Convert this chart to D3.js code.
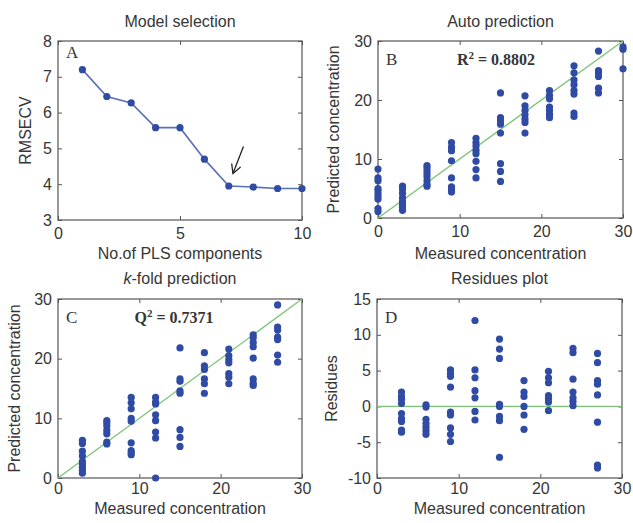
<!DOCTYPE html>
<html>
<head>
<meta charset="utf-8">
<script src="https://cdn.jsdelivr.net/npm/d3@7"></script>
<style>
  body { margin: 0; background: #fff; }
  svg { display: block; }
  text { font-family: "Liberation Sans", Arial, sans-serif; fill: #363636; }
  .serif { font-family: "Liberation Serif", "Times New Roman", serif; }
</style>
</head>
<body>
<svg id="chart" width="633" height="523"></svg>
<script>
// Panel A: cross-validation error against number of PLS components
const components = [1, 2, 3, 4, 5, 6, 7, 8, 9, 10];
const rmsecv = [7.2, 6.45, 6.27, 5.58, 5.58, 4.7, 3.95, 3.92, 3.88, 3.88];
const arrowFrom = [7.6, 5.05];
const arrowTo = [7.17, 4.3];

// Panel B: auto prediction (measured level -> predicted values)
const autoLevels = [0, 3, 6, 9, 12, 15, 18, 21, 24, 27, 30];
const autoPred = [
  [8.3, 6.8, 6.3, 5.0, 4.6, 4.1, 3.6, 3.2, 1.6, 1.1],
  [5.4, 4.9, 4.2, 3.4, 2.8, 2.3, 1.8, 1.3],
  [8.9, 8.5, 8.0, 7.5, 7.0, 6.3, 5.7, 5.4],
  [12.8, 12.0, 11.4, 9.7, 6.8, 5.3, 4.8, 4.4],
  [13.5, 12.8, 12.2, 11.5, 10.9, 9.6, 8.2, 6.8],
  [21.2, 17.0, 16.5, 15.9, 14.4, 9.2, 7.9, 6.2],
  [20.7, 19.0, 18.2, 17.5, 16.8, 16.2, 14.4],
  [21.6, 20.8, 20.2, 18.8, 18.2, 17.6, 17.0],
  [25.8, 24.6, 23.4, 22.6, 21.6, 21.0, 17.8, 17.2],
  [28.3, 25.0, 24.6, 24.0, 22.0, 21.2],
  [29.0, 28.6, 25.3]
];

// Panel C: k-fold prediction
const kfoldLevels = [3, 6, 9, 12, 15, 18, 21, 24, 27];
const kfoldPred = [
  [6.3, 5.8, 4.5, 3.7, 2.8, 2.3, 1.8, 1.3, 0.8],
  [9.6, 9.2, 8.7, 8.0, 7.4, 6.0, 5.7],
  [13.5, 12.6, 11.6, 10.0, 9.5, 5.9, 4.6, 4.2, 3.9],
  [13.5, 12.7, 12.4, 10.6, 9.6, 7.7, 6.7, 0.0],
  [21.8, 16.6, 16.2, 14.6, 14.2, 8.1, 6.8, 5.3],
  [21.0, 18.8, 18.2, 16.6, 15.8, 14.2],
  [21.6, 20.5, 19.8, 19.3, 17.5, 16.9, 15.8],
  [24.0, 23.5, 22.7, 22.0, 20.1, 16.6, 15.9, 15.5],
  [29.0, 25.3, 24.8, 23.6, 23.2, 20.6, 19.4]
];

// Panel D: residues
const residueLevels = [3, 6, 9, 12, 15, 18, 21, 24, 27];
const residues = [
  [2.0, 1.4, 1.0, 0.4, -1.0, -1.7, -2.1, -3.3, -3.6],
  [0.2, -0.1, -1.8, -2.4, -2.9, -3.4, -3.9],
  [5.1, 4.6, 4.2, 2.7, -0.8, -1.2, -3.0, -3.9, -4.9],
  [12.0, 5.1, 4.0, 2.2, 1.2, -0.7, -1.9],
  [9.4, 8.0, 6.7, 0.3, 0.0, -1.4, -2.0, -7.1],
  [3.6, 2.0, 1.4, 0.0, -1.2, -3.2],
  [4.9, 4.0, 3.3, 1.5, 1.1, 0.6, -0.6],
  [8.1, 7.5, 3.8, 2.0, 1.2, 0.7, 0.1],
  [7.4, 6.1, 3.6, 3.1, 1.6, -2.2, -8.2, -8.6]
];

const ticksA_x = [0, 5, 10];
const ticksA_y = [3, 4, 5, 6, 7, 8];
const ticksConc = [0, 10, 20, 30];
const ticksRes = [-10, -5, 0, 5, 10, 15];

const dotColor = "#2f4ba3";
const lineBlue = "#5a6fb5";
const green = "#7cc576";
const frame = "#555";

const svg = d3.select("#chart");

function flatten(levels, groups) {
  const out = [];
  levels.forEach((lv, i) => groups[i].forEach(v => out.push([lv, v])));
  return out;
}

// plain hyphen for negatives, as the plotting software prints them
const fmt = d => String(d);

function panel(o) {
  const g = svg.append("g");
  const x = d3.scaleLinear().domain(o.xDomain).range([o.left, o.right]);
  const y = d3.scaleLinear().domain(o.yDomain).range([o.bottom, o.top]);
  const tl = 4;

  // inward ticks on all four sides
  g.append("g").attr("transform", `translate(0,${o.bottom})`)
    .call(d3.axisBottom(x).tickValues(o.xTicks).tickSize(-tl).tickPadding(o.xPad).tickFormat(fmt))
    .call(a => a.select(".domain").remove());
  g.append("g").attr("transform", `translate(0,${o.top})`)
    .call(d3.axisTop(x).tickValues(o.xTicks).tickSize(-tl).tickFormat(""))
    .call(a => a.select(".domain").remove());
  g.append("g").attr("transform", `translate(${o.left},0)`)
    .call(d3.axisLeft(y).tickValues(o.yTicks).tickSize(-tl).tickPadding(6).tickFormat(fmt))
    .call(a => a.select(".domain").remove());
  g.append("g").attr("transform", `translate(${o.right},0)`)
    .call(d3.axisRight(y).tickValues(o.yTicks).tickSize(-tl).tickFormat(""))
    .call(a => a.select(".domain").remove());
  g.selectAll(".tick line").attr("stroke", frame);
  g.selectAll(".tick text").attr("font-size", 16).attr("fill", "#363636")
    .style("font-family", "'Liberation Sans', Arial, sans-serif");

  g.append("rect")
    .attr("x", o.left).attr("y", o.top)
    .attr("width", o.right - o.left).attr("height", o.bottom - o.top)
    .attr("fill", "none").attr("stroke", frame).attr("stroke-width", 1.2);

  // title and axis labels
  g.append("text").attr("x", (o.left + o.right) / 2).attr("y", o.titleY)
    .attr("text-anchor", "middle").attr("font-size", 16).call(o.title);
  g.append("text").attr("x", (o.left + o.right) / 2).attr("y", o.xLabelY)
    .attr("text-anchor", "middle").attr("font-size", 16).text(o.xLabel);
  g.append("text")
    .attr("transform", `translate(${o.yLabelX},${(o.top + o.bottom) / 2}) rotate(-90)`)
    .attr("text-anchor", "middle").attr("font-size", 16).text(o.yLabel);

  // panel letter
  g.append("text").attr("class", "serif").attr("x", o.left + 8).attr("y", o.top + o.letterDy)
    .attr("font-size", 17).attr("fill", "#444").text(o.letter);

  return { g, x, y };
}

// ---- A: model selection
{
  const p = panel({
    left: 58, right: 302, top: 41, bottom: 220,
    xDomain: [0, 10], yDomain: [3, 8], xTicks: ticksA_x, yTicks: ticksA_y, xPad: 8,
    title: t => t.text("Model selection"), titleY: 27,
    xLabel: "No.of PLS components", xLabelY: 259,
    yLabel: "RMSECV", yLabelX: 31, letter: "A", letterDy: 17
  });
  const pts = components.map((c, i) => [c, rmsecv[i]]);
  p.g.append("path").datum(pts)
    .attr("d", d3.line().x(d => p.x(d[0])).y(d => p.y(d[1])))
    .attr("fill", "none").attr("stroke", lineBlue).attr("stroke-width", 1.6);
  p.g.selectAll("circle").data(pts).join("circle")
    .attr("cx", d => p.x(d[0])).attr("cy", d => p.y(d[1])).attr("r", 3.6).attr("fill", dotColor);

  // arrow pointing at the chosen number of components
  const x0 = p.x(arrowFrom[0]), y0 = p.y(arrowFrom[1]);
  const x1 = p.x(arrowTo[0]), y1 = p.y(arrowTo[1]);
  const ang = Math.atan2(y1 - y0, x1 - x0);
  const hl = 10, spread = 0.5;
  const head = [
    [x1 - hl * Math.cos(ang - spread), y1 - hl * Math.sin(ang - spread)],
    [x1, y1],
    [x1 - hl * Math.cos(ang + spread), y1 - hl * Math.sin(ang + spread)]
  ];
  p.g.append("line").attr("x1", x0).attr("y1", y0).attr("x2", x1).attr("y2", y1)
    .attr("stroke", "#222").attr("stroke-width", 1.3);
  p.g.append("path").attr("d", d3.line()(head))
    .attr("fill", "none").attr("stroke", "#222").attr("stroke-width", 1.3);
}

function superscript(sym, sup, rest) {
  return t => {
    t.append("tspan").text(sym);
    t.append("tspan").attr("font-size", 11).attr("dy", -6).text(sup);
    t.append("tspan").attr("dy", 6).text(rest);
  };
}

// ---- B: auto prediction
{
  const p = panel({
    left: 378, right: 623, top: 41, bottom: 218,
    xDomain: [0, 30], yDomain: [0, 30], xTicks: ticksConc, yTicks: ticksConc, xPad: 8,
    title: t => t.text("Auto prediction"), titleY: 27,
    xLabel: "Measured concentration", xLabelY: 259,
    yLabel: "Predicted concentration", yLabelX: 339, letter: "B", letterDy: 24
  });
  p.g.append("line").attr("x1", p.x(0)).attr("y1", p.y(0)).attr("x2", p.x(30)).attr("y2", p.y(30))
    .attr("stroke", green).attr("stroke-width", 1.4);
  p.g.selectAll("circle").data(flatten(autoLevels, autoPred)).join("circle")
    .attr("cx", d => p.x(d[0])).attr("cy", d => p.y(d[1])).attr("r", 3.6).attr("fill", dotColor);
  p.g.append("text").attr("class", "serif").attr("x", 496).attr("y", 65)
    .attr("text-anchor", "middle").attr("font-size", 16).attr("font-weight", "bold").attr("fill", "#222")
    .call(superscript("R", "2", " = 0.8802"));
}

// ---- C: k-fold prediction
{
  const p = panel({
    left: 58, right: 302, top: 299, bottom: 478,
    xDomain: [0, 30], yDomain: [0, 30], xTicks: ticksConc, yTicks: ticksConc, xPad: 5,
    title: t => {
      t.append("tspan").attr("font-style", "italic").text("k");
      t.append("tspan").text("-fold prediction");
    }, titleY: 284,
    xLabel: "Measured concentration", xLabelY: 514,
    yLabel: "Predicted concentration", yLabelX: 20, letter: "C", letterDy: 24
  });
  p.g.append("line").attr("x1", p.x(0)).attr("y1", p.y(0)).attr("x2", p.x(30)).attr("y2", p.y(30))
    .attr("stroke", green).attr("stroke-width", 1.4);
  p.g.selectAll("circle").data(flatten(kfoldLevels, kfoldPred)).join("circle")
    .attr("cx", d => p.x(d[0])).attr("cy", d => p.y(d[1])).attr("r", 3.6).attr("fill", dotColor);
  p.g.append("text").attr("class", "serif").attr("x", 174).attr("y", 323)
    .attr("text-anchor", "middle").attr("font-size", 16).attr("font-weight", "bold").attr("fill", "#222")
    .call(superscript("Q", "2", " = 0.7371"));
}

// ---- D: residues plot
{
  const p = panel({
    left: 377, right: 622, top: 299, bottom: 478,
    xDomain: [0, 30], yDomain: [-10, 15], xTicks: ticksConc, yTicks: ticksRes, xPad: 5,
    title: t => t.text("Residues plot"), titleY: 284,
    xLabel: "Measured concentration", xLabelY: 514,
    yLabel: "Residues", yLabelX: 337, letter: "D", letterDy: 24
  });
  p.g.append("line").attr("x1", p.x(0)).attr("y1", p.y(0)).attr("x2", p.x(30)).attr("y2", p.y(0))
    .attr("stroke", green).attr("stroke-width", 1.4);
  p.g.selectAll("circle").data(flatten(residueLevels, residues)).join("circle")
    .attr("cx", d => p.x(d[0])).attr("cy", d => p.y(d[1])).attr("r", 3.6).attr("fill", dotColor);
}
</script>
</body>
</html>
